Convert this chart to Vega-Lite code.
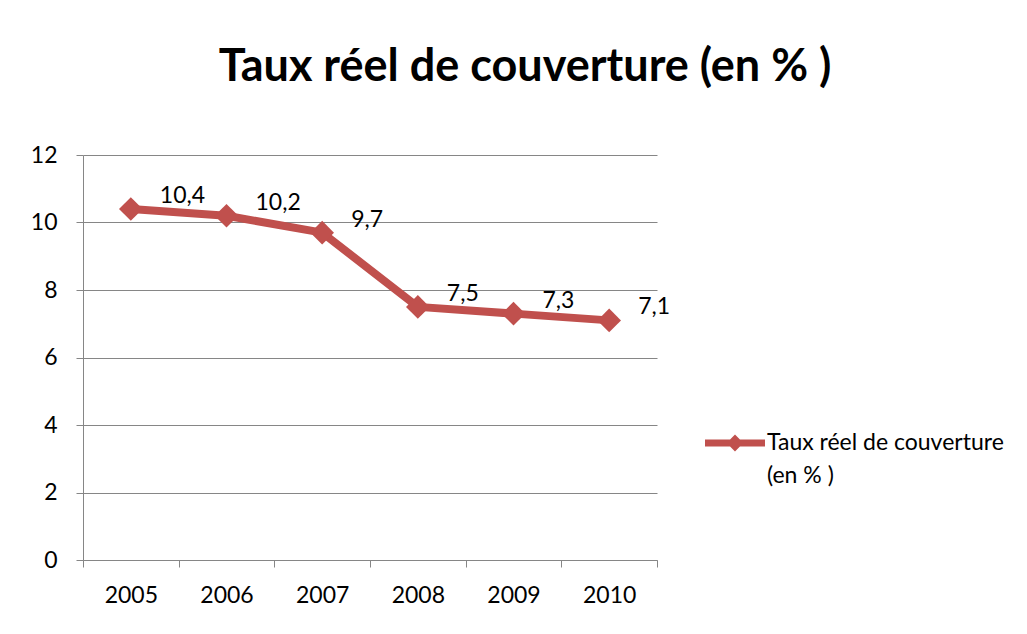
{
  "$schema": "https://vega.github.io/schema/vega-lite/v6.json",
  "width": 574,
  "height": 405,
  "autosize": "none",
  "padding": {"left": 83, "top": 155, "right": 370, "bottom": 74},
  "background": "white",
  "config": {
    "font": "Lato",
    "view": {"stroke": null},
    "style": {"guide-label": {"lineHeight": 33}},
    "locale": {"number": {"decimal": ",", "thousands": " ", "grouping": [3], "currency": ["", " €"]}}
  },
  "title": {
    "text": "Taux réel de couverture (en % )",
    "fontSize": 45,
    "fontWeight": "bold",
    "font": "Lato",
    "color": "#000000",
    "anchor": "middle",
    "dx": 155,
    "offset": 54
  },
  "data": {
    "values": [
      {"annee": "2005", "taux": 10.4, "serie": "Taux réel de couverture (en % )"},
      {"annee": "2006", "taux": 10.2, "serie": "Taux réel de couverture (en % )"},
      {"annee": "2007", "taux": 9.7, "serie": "Taux réel de couverture (en % )"},
      {"annee": "2008", "taux": 7.5, "serie": "Taux réel de couverture (en % )"},
      {"annee": "2009", "taux": 7.3, "serie": "Taux réel de couverture (en % )"},
      {"annee": "2010", "taux": 7.1, "serie": "Taux réel de couverture (en % )"}
    ]
  },
  "encoding": {
    "x": {
      "field": "annee",
      "type": "ordinal",
      "scale": {"type": "band", "paddingInner": 0, "paddingOuter": 0},
      "axis": {
        "title": null,
        "labelAngle": 0,
        "labelFontSize": 23,
        "labelColor": "#000000",
        "labelPadding": 17,
        "tickBand": "extent",
        "tickSize": 7,
        "tickColor": "#868686",
        "domainColor": "#868686",
        "grid": false
      }
    },
    "y": {
      "field": "taux",
      "type": "quantitative",
      "scale": {"domain": [0, 12]},
      "axis": {
        "title": null,
        "values": [0, 2, 4, 6, 8, 10, 12],
        "labelFontSize": 23,
        "labelColor": "#000000",
        "labelPadding": 19,
        "tickSize": 7,
        "tickColor": "#868686",
        "domainColor": "#868686",
        "gridColor": "#868686",
        "grid": true
      }
    }
  },
  "layer": [
    {
      "mark": {"type": "line", "color": "#C0504D", "strokeWidth": 8, "strokeJoin": "round"},
      "encoding": {
        "color": {
          "field": "serie",
          "type": "nominal",
          "scale": {"range": ["#C0504D"]},
          "legend": {
            "title": null,
            "orient": "none",
            "legendX": 622,
            "legendY": 258,
            "symbolType": "M-1,-0.12H1V0.12H-1Z M0,-0.28L0.28,0L0,0.28L-0.28,0Z",
            "symbolSize": 3600,
            "symbolFillColor": "#C0504D",
            "symbolStrokeColor": "#C0504D",
            "symbolStrokeWidth": 0,
            "labelFontSize": 23,
            "labelColor": "#000000",
            "labelOffset": 2,
            "labelLimit": 300,
            "labelBaseline": "middle",
            "labelExpr": "['Taux réel de couverture', '(en % )']"
          }
        }
      }
    },
    {
      "mark": {"type": "point", "shape": "diamond", "filled": true, "size": 560, "color": "#C0504D", "opacity": 1}
    },
    {
      "mark": {"type": "text", "align": "left", "baseline": "middle", "dx": 29, "dy": -13, "fontSize": 23, "color": "#000000"},
      "encoding": {
        "text": {"field": "taux", "type": "quantitative", "format": ".1f"}
      }
    }
  ]
}
